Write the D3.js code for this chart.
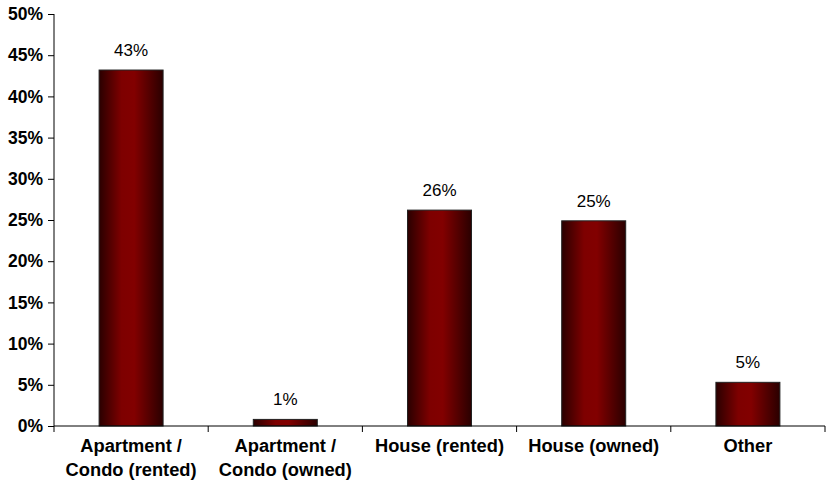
<!DOCTYPE html>
<html><head><meta charset="utf-8">
<script src="https://cdn.jsdelivr.net/npm/d3@7"></script>
<style>body{margin:0;background:#fff;} svg{display:block;}</style>
</head><body>
<svg id="c" width="827" height="487"></svg>
<script>
const categories = [["Apartment /","Condo (rented)"],["Apartment /","Condo (owned)"],["House (rented)"],["House (owned)"],["Other"]];
const values = [43.2, 0.8, 26.2, 24.9, 5.3];
const valueLabels = ["43%","1%","26%","25%","5%"];
const yTicks = [0,5,10,15,20,25,30,35,40,45,50];

(function(){
const svg = d3.select("#c");
const pL = 54, pR = 825, pT = 14, pB = 426;
const FF = "Liberation Sans, Arial, sans-serif";
const x = d3.scaleBand().domain(d3.range(values.length)).range([pL, pR]).paddingInner(0.585).paddingOuter(0.2925);
const y = d3.scaleLinear().domain([0,50]).range([pB, pT]);

const defs = svg.append("defs");
const g = defs.append("linearGradient").attr("id","bg").attr("x1","0").attr("x2","1").attr("y1","0").attr("y2","0");
g.append("stop").attr("offset","0").attr("stop-color","#2a0000");
g.append("stop").attr("offset","0.35").attr("stop-color","#7e0000");
g.append("stop").attr("offset","0.55").attr("stop-color","#820000");
g.append("stop").attr("offset","1").attr("stop-color","#2a0000");

svg.append("g").selectAll("rect").data(values).join("rect")
  .attr("x",(d,i)=>x(i)).attr("width",x.bandwidth())
  .attr("y",d=>y(d)).attr("height",d=>pB-y(d))
  .attr("fill","url(#bg)").attr("stroke","#222").attr("stroke-width",1);

svg.append("g").selectAll("text").data(values).join("text")
  .attr("x",(d,i)=>x(i)+x.bandwidth()/2).attr("y",d=>y(d)-14)
  .attr("text-anchor","middle").attr("font-family",FF)
  .attr("font-size",17).attr("fill","#000").text((d,i)=>valueLabels[i]);

const ya = svg.append("g").attr("transform",`translate(${pL},0)`)
  .call(d3.axisLeft(y).tickValues(yTicks).tickFormat(d=>d+"%").tickSize(6).tickPadding(5));
ya.select(".domain").attr("stroke","#000").attr("d",`M0,${pB}V${pT}`);
ya.selectAll(".tick line").attr("stroke","#000");
ya.selectAll("text").attr("font-family",FF).attr("font-size",17.5).attr("font-weight","bold").attr("fill","#000");

const xa = svg.append("g");
xa.append("line").attr("x1",pL).attr("x2",pR).attr("y1",pB).attr("y2",pB).attr("stroke","#000");
const step = x.step();
xa.selectAll("line.t").data(d3.range(values.length+1)).join("line").attr("class","t")
  .attr("x1",i=>pL+i*step).attr("x2",i=>pL+i*step).attr("y1",pB).attr("y2",pB+6).attr("stroke","#000");
const labs = xa.selectAll("text").data(categories).join("text")
  .attr("text-anchor","middle").attr("font-family",FF)
  .attr("font-size",18.3).attr("font-weight","bold").attr("fill","#000")
  .attr("transform",(d,i)=>`translate(${x(i)+x.bandwidth()/2},0)`);
labs.selectAll("tspan").data(d=>d).join("tspan").attr("x",0).attr("y",(d,j)=>pB+26+j*24).text(d=>d);
})();
</script>
</body></html>
